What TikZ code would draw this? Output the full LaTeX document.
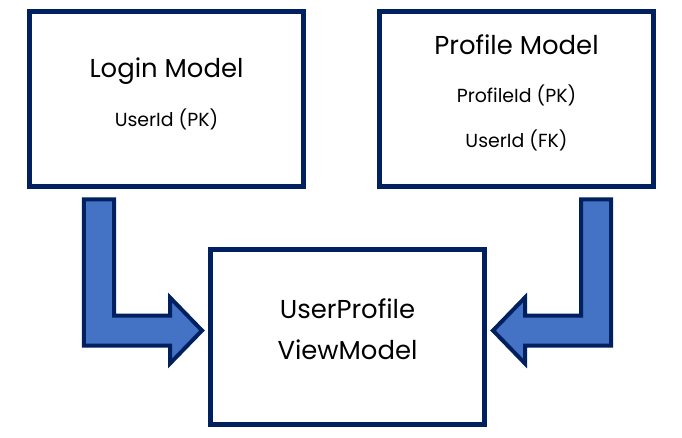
\documentclass[tikz,border=0pt]{standalone}
\usepackage{fontspec}
\setmainfont{Poppins}
\usetikzlibrary{positioning, calc}

\definecolor{navy}{HTML}{002060}
\definecolor{arrowblue}{HTML}{4472C4}

\begin{document}
\begin{tikzpicture}[
    x=1bp, y=-1bp,
    box/.style={rectangle, draw=navy, line width=5bp, fill=white, minimum width=274bp, minimum height=175bp, inner sep=0pt},
    title/.style={anchor=base, font=\fontsize{26}{30}\selectfont},
    field/.style={anchor=base, font=\fontsize{19}{22}\selectfont},
    blockarrow/.style={draw=navy, fill=arrowblue, line width=4bp, line join=miter}
]
    \useasboundingbox (0,0) rectangle (682,438);

    \node[box] (login) at (166.5,99) {};
    \node[box, right=71bp of login] (profile) {};
    \coordinate (mid) at ($(login.south)!0.5!(profile.south)$);
    \node[box, below=58bp of mid, xshift=6bp] (vm) {};

    \node[title] (logintitle) at ([yshift=-69bp]login.north) {Login Model};
    \node[field] (loginpk) at ([yshift=-118bp]login.north) {UserId (PK)};

    \node[title] (profiletitle) at ([yshift=-46bp]profile.north) {Profile Model};
    \node[field] (profilepk) at ([yshift=-94bp]profile.north) {ProfileId (PK)};
    \node[field] (profilefk) at ([yshift=-139bp]profile.north) {UserId (FK)};

    \node[title] (vmtop) at ([yshift=-71bp]vm.north) {UserProfile};
    \node[title] (vmbottom) at ([yshift=-112bp]vm.north) {ViewModel};

    % block arrows into the view model
    \coordinate (la) at ($(login.south west)+(72,10.5)$);
    \coordinate (lt) at ($(vm.west)+(-6,-6.5)$);
    \draw[blockarrow] ($(la)+(-15,0)$) -- ++(30,0) |- ($(lt)+(-32,-15)$) -- ++(0,-18) -- (lt)
        -- ++(-32,33) -- ++(0,-18) -| ($(la)+(-15,0)$) -- cycle;

    \coordinate (ra) at ($(profile.south east)+(-60,10.5)$);
    \coordinate (rt) at ($(vm.east)+(6,-6.5)$);
    \draw[blockarrow] ($(ra)+(15,0)$) -- ++(-30,0) |- ($(rt)+(32,-15)$) -- ++(0,-18) -- (rt)
        -- ++(32,33) -- ++(0,-18) -| ($(ra)+(15,0)$) -- cycle;
\end{tikzpicture}
\end{document}
